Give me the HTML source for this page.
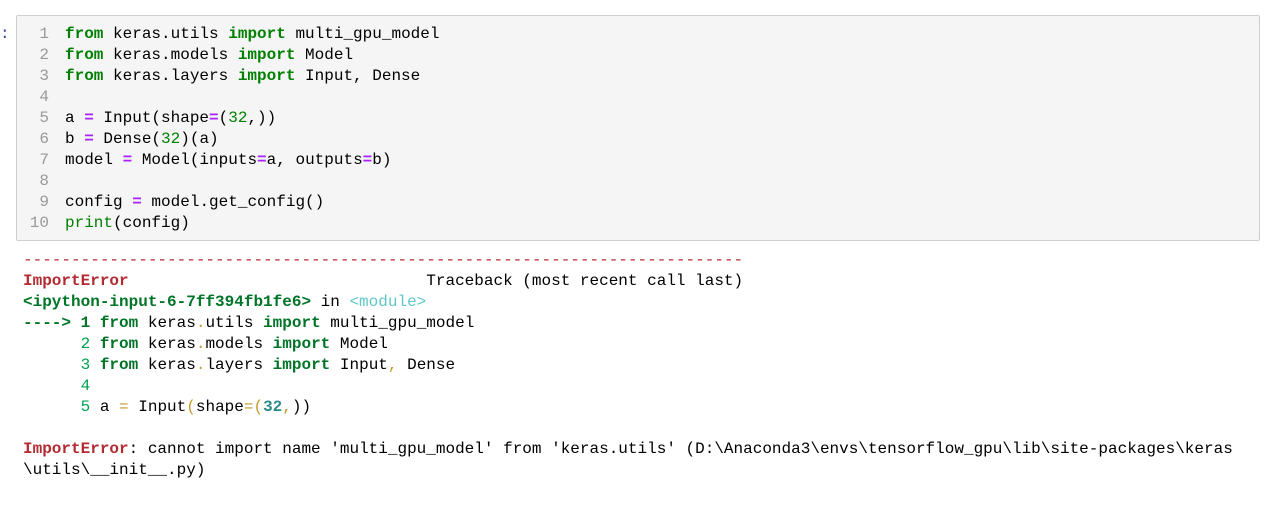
<!DOCTYPE html>
<html><head><meta charset="utf-8"><style>
body{margin:0;width:1277px;height:523px;background:#fff;position:relative;overflow:hidden;font-family:"Liberation Mono",monospace;font-size:16px;color:#000}
.box{position:absolute;left:16px;top:15px;width:1242px;height:224px;background:#f5f5f5;border:1px solid #cfcfcf;border-radius:2px}
.l{position:absolute;white-space:pre;line-height:21px;height:21px}
.n{color:#999;width:34px;text-align:right;left:15px}
.k{color:#008000;font-weight:bold}
.o{color:#aa22ff;font-weight:bold}
.m{color:#008000}
.r{color:#b22b31;font-weight:bold}
.g{color:#007427;font-weight:bold}
.gn{color:#00a250}
.c{color:#60c6c8}
.y{color:#c49a2a}
.t{color:#2c8a8a;font-weight:bold}
</style></head><body>
<div class="l" style="left:0;top:24px;color:#303f9f">:</div>
<div class="box"></div>
<div class="l n" style="top:24px">1</div><div class="l" style="left:65px;top:24px"><span class="k">from</span> keras.utils <span class="k">import</span> multi_gpu_model</div>
<div class="l n" style="top:45px">2</div><div class="l" style="left:65px;top:45px"><span class="k">from</span> keras.models <span class="k">import</span> Model</div>
<div class="l n" style="top:66px">3</div><div class="l" style="left:65px;top:66px"><span class="k">from</span> keras.layers <span class="k">import</span> Input, Dense</div>
<div class="l n" style="top:87px">4</div>
<div class="l n" style="top:108px">5</div><div class="l" style="left:65px;top:108px">a <span class="o">=</span> Input(shape<span class="o">=</span>(<span class="m">32</span>,))</div>
<div class="l n" style="top:129px">6</div><div class="l" style="left:65px;top:129px">b <span class="o">=</span> Dense(<span class="m">32</span>)(a)</div>
<div class="l n" style="top:150px">7</div><div class="l" style="left:65px;top:150px">model <span class="o">=</span> Model(inputs<span class="o">=</span>a, outputs<span class="o">=</span>b)</div>
<div class="l n" style="top:171px">8</div>
<div class="l n" style="top:192px">9</div><div class="l" style="left:65px;top:192px">config <span class="o">=</span> model.get_config()</div>
<div class="l n" style="top:213px">10</div><div class="l" style="left:65px;top:213px"><span class="m">print</span>(config)</div>

<div class="l" style="left:23px;top:250px;color:#b22b31">---------------------------------------------------------------------------</div>
<div class="l" style="left:23px;top:271px"><span class="r">ImportError</span>                               Traceback (most recent call last)</div>
<div class="l" style="left:23px;top:292px"><span class="g">&lt;ipython-input-6-7ff394fb1fe6&gt;</span> in <span class="c">&lt;module&gt;</span></div>
<div class="l" style="left:23px;top:313px"><span class="g">----&gt; 1</span> <span class="g">from</span> keras<span class="y">.</span>utils <span class="g">import</span> multi_gpu_model</div>
<div class="l" style="left:23px;top:334px">      <span class="gn">2</span> <span class="g">from</span> keras<span class="y">.</span>models <span class="g">import</span> Model</div>
<div class="l" style="left:23px;top:355px">      <span class="gn">3</span> <span class="g">from</span> keras<span class="y">.</span>layers <span class="g">import</span> Input<span class="y">,</span> Dense</div>
<div class="l" style="left:23px;top:376px">      <span class="gn">4</span></div>
<div class="l" style="left:23px;top:397px">      <span class="gn">5</span> a <span class="y">=</span> Input<span class="y">(</span>shape<span class="y">=(</span><span class="t">32</span><span class="y">,</span>))</div>
<div class="l" style="left:23px;top:439px"><span class="r">ImportError</span>: cannot import name 'multi_gpu_model' from 'keras.utils' (D:\Anaconda3\envs\tensorflow_gpu\lib\site-packages\keras</div>
<div class="l" style="left:23px;top:460px">\utils\__init__.py)</div>
</body></html>
